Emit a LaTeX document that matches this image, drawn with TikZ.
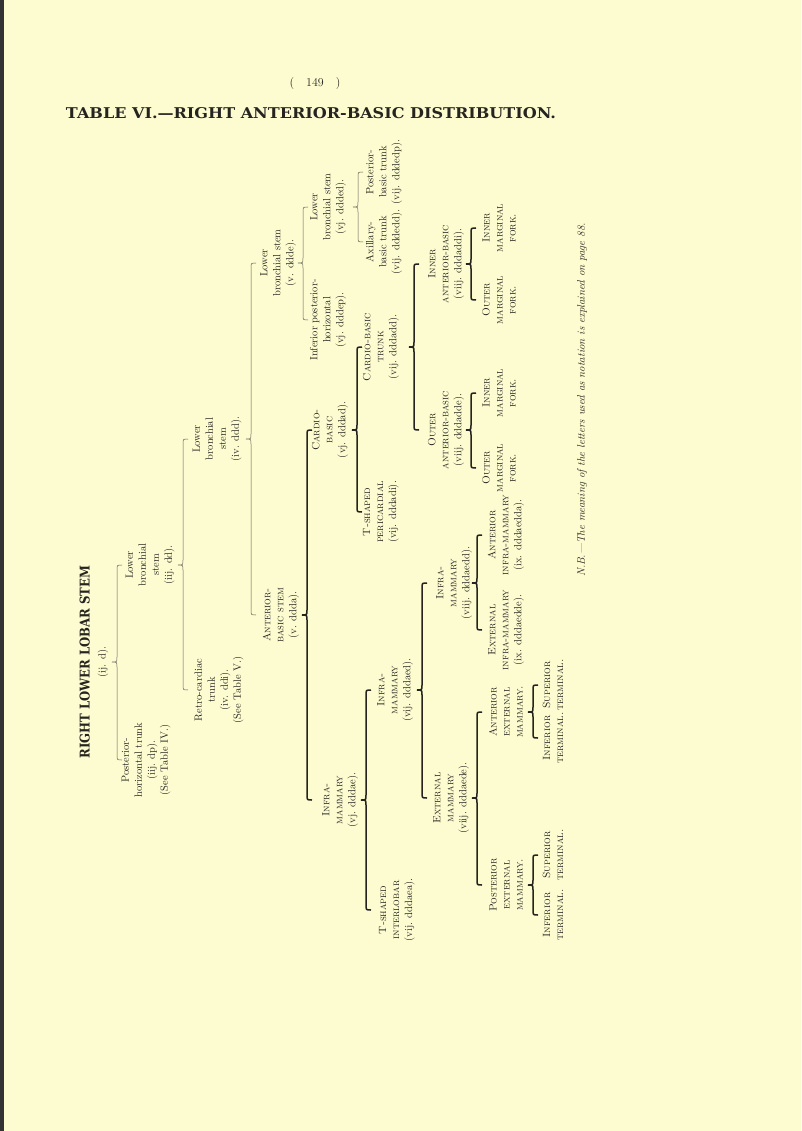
\documentclass[tikz,border=0pt]{standalone}
\usepackage{fontspec}
\usepackage{graphicx}
\usetikzlibrary{calc}
\newfontfamily\slab{DejaVu Serif}
\definecolor{paper}{RGB}{253,252,208}
\definecolor{ink}{RGB}{38,36,30}
\tikzset{
  lbl/.style={rotate=90, align=center, inner sep=0pt, text=ink,
    font=\fontsize{10.5}{13}\selectfont},
  thinbr/.style={draw=ink!75, line width=.5pt},
  thickbr/.style={draw=ink, line width=1.5pt},
}
\newcommand\forkbrace[5][thinbr]{%
  \draw[#1] let \p1=(#3.center), \p2=(#4.center), \p3=(#5.center) in
    ({#2pt+5pt},\y2) .. controls ({#2pt},\y2) .. ({#2pt},{\y2-5pt})
    -- ({#2pt},{\y1+5pt}) .. controls ({#2pt},\y1) .. ({#2pt-5pt},\y1)
    .. controls ({#2pt},\y1) .. ({#2pt},{\y1-5pt})
    -- ({#2pt},{\y3+5pt}) .. controls ({#2pt},\y3) .. ({#2pt+5pt},\y3);}
\begin{document}
\begin{tikzpicture}[x=1pt,y=1pt]
  \useasboundingbox (0,0) rectangle (801,-1131);
  \fill[paper] (0,0) rectangle (801,-1131);
  \fill[black!80] (0,0) rectangle (4,-1131);

  \node[text=ink, font=\fontsize{12}{14}\selectfont] (pageno) at (315,-84) {(\quad 149\quad )};
  \node[text=ink] (title) at (311,-113)
    {\resizebox{490pt}{11pt}{\slab\bfseries TABLE VI.—RIGHT ANTERIOR-BASIC DISTRIBUTION.}};

  \begin{scope}[every node/.style={lbl}]
    \node (root) at (94,-662) {\resizebox{193pt}{10pt}{\slab\bfseries RIGHT LOWER LOBAR STEM}\\[3pt](ij. d).};

    \node (dd) at (150,-565) {Lower\\bronchial\\stem\\(iij. dd).};
    \node (dp) at (146,-760) {Posterior-\\horizontal trunk\\(iij. dp).\\(See Table IV.)};

    \node (ddd) at (217,-439) {Lower\\bronchial\\stem\\(iv. ddd).};
    \node (ddi) at (219,-690) {Retro-cardiac\\trunk\\(iv. ddi).\\(See Table V.)};

    \node (ddde) at (278,-263) {Lower\\bronchial stem\\(v. ddde).};
    \node (ddda) at (281,-615) {\textsc{Anterior-}\\\textsc{basic stem}\\(v. ddda).};

    \node (ddded) at (328,-207) {Lower\\bronchial stem\\(vj. ddded).};
    \node (dddep) at (328,-320) {Inferior posterior-\\horizontal\\(vj. dddep).};
    \node (dddedp) at (384,-172) {Posterior-\\basic trunk\\(vij. dddedp).};
    \node (dddedd) at (384,-242) {Axillary-\\basic trunk\\(vij. dddedd).};

    \node (dddad) at (330,-430) {\textsc{Cardio-}\\\textsc{basic}\\(vj. dddad).};
    \node (dddae) at (340,-800) {\textsc{Infra-}\\\textsc{mammary}\\(vj. dddae).};

    \node (dddadd) at (381,-347) {\textsc{Cardio-basic}\\\textsc{trunk}\\(vij. dddadd).};
    \node (dddadi) at (381,-512) {\textsc{T-shaped}\\\textsc{pericardial}\\(vij. dddadi).};
    \node (dddaddi) at (446,-264) {\textsc{Inner}\\\textsc{anterior-basic}\\(viij. dddaddi).};
    \node (dddadde) at (446,-430) {\textsc{Outer}\\\textsc{anterior-basic}\\(viij. dddadde).};
    \node (innfork1) at (499,-228) {\textsc{Inner}\\\textsc{marginal}\\\textsc{fork.}};
    \node (outfork1) at (499,-300) {\textsc{Outer}\\\textsc{marginal}\\\textsc{fork.}};
    \node (innfork2) at (499,-393) {\textsc{Inner}\\\textsc{marginal}\\\textsc{fork.}};
    \node (outfork2) at (499,-468) {\textsc{Outer}\\\textsc{marginal}\\\textsc{fork.}};

    \node (dddaed) at (395,-690) {\textsc{Infra-}\\\textsc{mammary}\\(vij. dddaed).};
    \node (dddaea) at (397,-910) {\textsc{T-shaped}\\\textsc{interlobar}\\(vij. dddaea).};
    \node (dddaedd) at (454,-583) {\textsc{Infra-}\\\textsc{mammary}\\(viij. dddaedd).};
    \node (dddaede) at (451,-798) {\textsc{External}\\\textsc{mammary}\\(viij. dddaede).};
    \node (dddaedda) at (506,-535) {\textsc{Anterior}\\\textsc{infra-mammary}\\(ix. dddaedda).};
    \node (dddaedde) at (506,-630) {\textsc{External}\\\textsc{infra-mammary}\\(ix. dddaedde).};
    \node (antext) at (506,-712) {\textsc{Anterior}\\\textsc{external}\\\textsc{mammary.}};
    \node (postext) at (506,-885) {\textsc{Posterior}\\\textsc{external}\\\textsc{mammary.}};
    \node (supterm1) at (553,-685) {\textsc{Superior}\\\textsc{terminal.}};
    \node (infterm1) at (553,-738) {\textsc{Inferior}\\\textsc{terminal.}};
    \node (supterm2) at (553,-855) {\textsc{Superior}\\\textsc{terminal.}};
    \node (infterm2) at (553,-915) {\textsc{Inferior}\\\textsc{terminal.}};

    \node[font=\fontsize{11}{13}\itshape] (nb) at (582,-400)
      {N.B.—The meaning of the letters used as notation is explained on page 88.};
  \end{scope}

  \forkbrace{117}{root}{dd}{dp}
  \forkbrace{183}{dd}{ddd}{ddi}
  \forkbrace{251}{ddd}{ddde}{ddda}
  \forkbrace{303}{ddde}{ddded}{dddep}
  \forkbrace{358}{ddded}{dddedp}{dddedd}
  \forkbrace[thickbr]{307}{ddda}{dddad}{dddae}
  \forkbrace[thickbr]{357}{dddad}{dddadd}{dddadi}
  \forkbrace[thickbr]{414}{dddadd}{dddaddi}{dddadde}
  \forkbrace[thickbr]{471}{dddaddi}{innfork1}{outfork1}
  \forkbrace[thickbr]{471}{dddadde}{innfork2}{outfork2}
  \forkbrace[thickbr]{366}{dddae}{dddaed}{dddaea}
  \forkbrace[thickbr]{422}{dddaed}{dddaedd}{dddaede}
  \forkbrace[thickbr]{477}{dddaedd}{dddaedda}{dddaedde}
  \forkbrace[thickbr]{477}{dddaede}{antext}{postext}
  \forkbrace[thickbr]{533}{antext}{supterm1}{infterm1}
  \forkbrace[thickbr]{533}{postext}{supterm2}{infterm2}
\end{tikzpicture}
\end{document}
